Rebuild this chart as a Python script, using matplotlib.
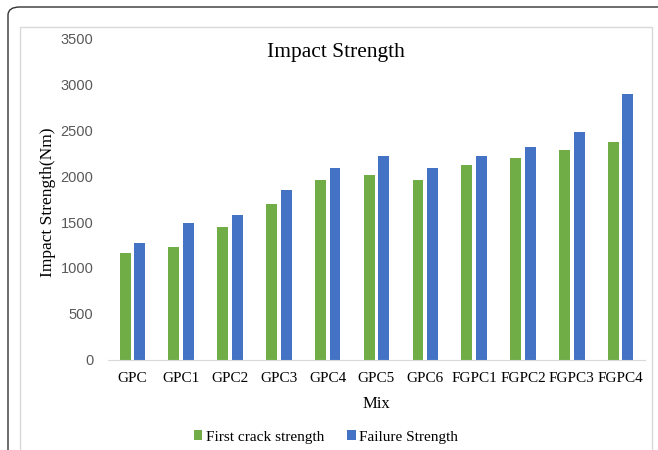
import matplotlib
import matplotlib.pyplot as plt
import numpy as np
from matplotlib.patches import FancyBboxPatch, Rectangle

matplotlib.use("agg")

mixes = ["GPC", "GPC1", "GPC2", "GPC3", "GPC4", "GPC5", "GPC6",
         "FGPC1", "FGPC2", "FGPC3", "FGPC4"]
first_crack = [1162, 1231, 1442, 1701, 1960, 2015, 1960, 2120, 2197, 2288, 2380]
failure = [1271, 1493, 1581, 1854, 2092, 2223, 2092, 2223, 2317, 2486, 2901]
y_ticks = [0, 500, 1000, 1500, 2000, 2500, 3000, 3500]

GREEN = "#70AD47"
BLUE = "#4472C4"
SERIF = ["Liberation Serif", "DejaVu Serif"]

fig = plt.figure(figsize=(6.58, 4.5), dpi=100)

# outer rounded frame (runs off right and bottom) and inner chart-area border
fig.patches.append(FancyBboxPatch(
    (8 / 658, -0.5), 1.2, 1.5 - 7 / 450,
    boxstyle="round,pad=0,rounding_size=0.018", transform=fig.transFigure,
    fill=False, edgecolor="#333333", linewidth=1.0))
fig.patches.append(Rectangle(
    (20 / 658, -0.1), (652 - 20) / 658, 1.0 - 27 / 450 + 0.1,
    transform=fig.transFigure, fill=False, edgecolor="#d9d9d9", linewidth=1.0))

ax = fig.add_axes([108 / 658, 90.5 / 450, 537 / 658, 320.5 / 450])

x = np.arange(len(mixes))
w = 0.225
gap = 0.075
ax.bar(x - (w + gap) / 2, first_crack, width=w, color=GREEN, label="First crack strength")
ax.bar(x + (w + gap) / 2, failure, width=w, color=BLUE, label="Failure Strength")

ax.set_xlim(-0.5, len(mixes) - 0.5)
ax.set_ylim(0, 3500)
ax.set_yticks(y_ticks)
ax.set_yticklabels([str(v) for v in y_ticks], fontsize=10.5, color="#595959",
                   family=["Liberation Sans", "DejaVu Sans"])
ax.set_xticks(x)
ax.set_xticklabels(mixes, fontsize=11, family=SERIF)
ax.tick_params(axis="both", length=0)
ax.tick_params(axis="y", pad=10.5)
ax.tick_params(axis="x", pad=9)

for side in ["top", "right", "left"]:
    ax.spines[side].set_visible(False)
ax.spines["bottom"].set_color("#d9d9d9")

ax.set_xlabel("Mix", fontsize=12, family=SERIF, labelpad=8)
ax.set_ylabel("Impact Strength(Nm)", fontsize=12.5, family=SERIF)
ax.yaxis.set_label_coords(-0.097, 0.49)

fig.text(336 / 658, 1 - 53 / 450, "Impact Strength", fontsize=15.5,
         family=SERIF, ha="center", va="center")

fig.legend(loc="center", bbox_to_anchor=(326 / 658, 1 - 437 / 450), ncol=2,
           frameon=False, prop={"family": SERIF, "size": 11},
           handlelength=0.55, handleheight=0.55, handletextpad=0.25,
           columnspacing=1.5)

fig.savefig("out.png", dpi=100)
